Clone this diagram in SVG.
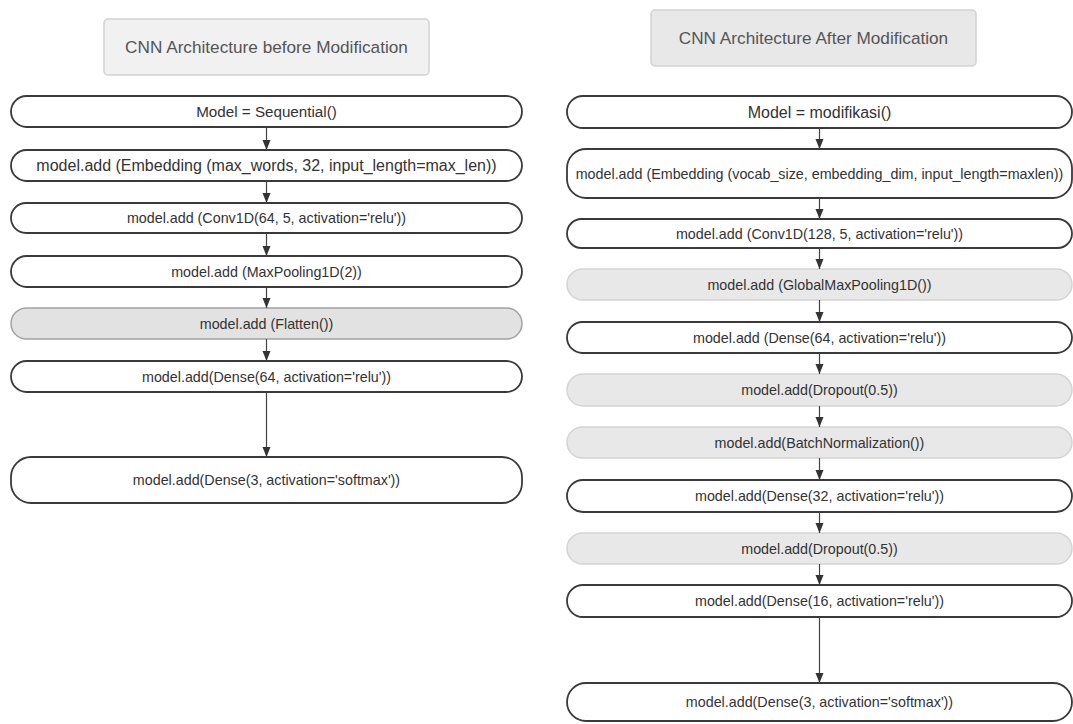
<svg xmlns="http://www.w3.org/2000/svg" width="1073" height="724" viewBox="0 0 1073 724">
<style>
  text { font-family: "Liberation Sans", Arial, sans-serif; fill: #333; text-anchor: middle; dominant-baseline: central; }
  .title rect { fill: #eeeeee; stroke: #d2d2d2; stroke-width: 1.5; }
  .title text { font-size: 17.2px; fill: #555; }
  .n rect { fill: #ffffff; stroke: #3a3a3a; stroke-width: 1.8; }
  .g rect { fill: #e8e8e8; stroke: #d4d4d4; stroke-width: 1.5; }
  .gd rect { fill: #e2e2e2; stroke: #a3a3a3; stroke-width: 1.5; }
  .t14 { font-size: 14.3px; }
  .t15 { font-size: 15.2px; }
  .t16 { font-size: 16px; }
  #connectors line { stroke: #444; stroke-width: 1.2; marker-end: url(#ah); }
</style>
<defs>
  <marker id="ah" markerWidth="10" markerHeight="10" refX="10" refY="4" orient="auto" markerUnits="userSpaceOnUse">
    <path d="M0,0 L10,4 L0,8 z" fill="#333"/>
  </marker>
</defs>
<rect x="0" y="0" width="1073" height="724" fill="#ffffff"/>

<!-- Titles -->
<g id="title-left" class="title">
  <rect x="104" y="19" width="325" height="56" rx="4" style="fill:#f1f1f1"/>
  <text x="266.5" y="47">CNN Architecture before Modification</text>
</g>
<g id="title-right" class="title">
  <rect x="651" y="10" width="325" height="56" rx="4" style="fill:#e8e8e8"/>
  <text x="813.5" y="38">CNN Architecture After Modification</text>
</g>

<!-- Left column -->
<g id="L1" class="n"><rect x="11" y="96" width="511" height="31" rx="15.5"/><text class="t15" x="266.5" y="111.5">Model = Sequential()</text></g>
<g id="L2" class="n"><rect x="11" y="150" width="511" height="31" rx="15.5"/><text class="t16" x="266.5" y="165.5">model.add (Embedding (max_words, 32, input_length=max_len))</text></g>
<g id="L3" class="n"><rect x="11" y="203" width="511" height="30" rx="15"/><text class="t14" x="266.5" y="218">model.add (Conv1D(64, 5, activation='relu'))</text></g>
<g id="L4" class="n"><rect x="11" y="256" width="511" height="31" rx="15.5"/><text class="t14" x="266.5" y="271.5">model.add (MaxPooling1D(2))</text></g>
<g id="L5" class="gd"><rect x="11" y="308" width="511" height="31" rx="15.5"/><text class="t14" x="266.5" y="323.5">model.add (Flatten())</text></g>
<g id="L6" class="n"><rect x="11" y="361" width="511" height="31" rx="15.5"/><text class="t14" x="266.5" y="376.5">model.add(Dense(64, activation='relu'))</text></g>
<g id="L7" class="n"><rect x="11" y="457" width="511" height="46" rx="20"/><text class="t14" x="266.5" y="480">model.add(Dense(3, activation='softmax'))</text></g>

<!-- Right column -->
<g id="R1" class="n"><rect x="567" y="96" width="505" height="32" rx="16"/><text class="t16" x="819.5" y="112">Model = modifikasi()</text></g>
<g id="R2" class="n"><rect x="567" y="149" width="505" height="49" rx="19"/><text class="t14" x="819.5" y="173.5">model.add (Embedding (vocab_size, embedding_dim, input_length=maxlen))</text></g>
<g id="R3" class="n"><rect x="567" y="219" width="505" height="29" rx="14.5"/><text class="t14" x="819.5" y="233.5">model.add (Conv1D(128, 5, activation='relu'))</text></g>
<g id="R4" class="g"><rect x="567" y="269" width="505" height="31" rx="15.5"/><text class="t14" x="819.5" y="284.5">model.add (GlobalMaxPooling1D())</text></g>
<g id="R5" class="n"><rect x="567" y="322" width="505" height="31" rx="15.5"/><text class="t14" x="819.5" y="337.5">model.add (Dense(64, activation='relu'))</text></g>
<g id="R6" class="g"><rect x="567" y="374" width="505" height="32" rx="16"/><text class="t14" x="819.5" y="390">model.add(Dropout(0.5))</text></g>
<g id="R7" class="g"><rect x="567" y="427" width="505" height="31" rx="15.5"/><text class="t14" x="819.5" y="442.5">model.add(BatchNormalization())</text></g>
<g id="R8" class="n"><rect x="567" y="480" width="505" height="32" rx="16"/><text class="t14" x="819.5" y="496">model.add(Dense(32, activation='relu'))</text></g>
<g id="R9" class="g"><rect x="567" y="533" width="505" height="31" rx="15.5"/><text class="t14" x="819.5" y="548.5">model.add(Dropout(0.5))</text></g>
<g id="R10" class="n"><rect x="567" y="585" width="505" height="32" rx="16"/><text class="t14" x="819.5" y="601">model.add(Dense(16, activation='relu'))</text></g>
<g id="R11" class="n"><rect x="567" y="683" width="505" height="38" rx="19"/><text class="t14" x="819.5" y="702">model.add(Dense(3, activation='softmax'))</text></g>

<!-- Connectors -->
<g id="connectors">
  <line x1="266.5" y1="127" x2="266.5" y2="150"/>
  <line x1="266.5" y1="181" x2="266.5" y2="203"/>
  <line x1="266.5" y1="233" x2="266.5" y2="256"/>
  <line x1="266.5" y1="287" x2="266.5" y2="308"/>
  <line x1="266.5" y1="339" x2="266.5" y2="361"/>
  <line x1="266.5" y1="392" x2="266.5" y2="457"/>

  <line x1="819.5" y1="128" x2="819.5" y2="149"/>
  <line x1="819.5" y1="198" x2="819.5" y2="219"/>
  <line x1="819.5" y1="248" x2="819.5" y2="269"/>
  <line x1="819.5" y1="300" x2="819.5" y2="322"/>
  <line x1="819.5" y1="353" x2="819.5" y2="374"/>
  <line x1="819.5" y1="406" x2="819.5" y2="427"/>
  <line x1="819.5" y1="458" x2="819.5" y2="480"/>
  <line x1="819.5" y1="512" x2="819.5" y2="533"/>
  <line x1="819.5" y1="564" x2="819.5" y2="585"/>
  <line x1="819.5" y1="617" x2="819.5" y2="683"/>
</g>
</svg>
